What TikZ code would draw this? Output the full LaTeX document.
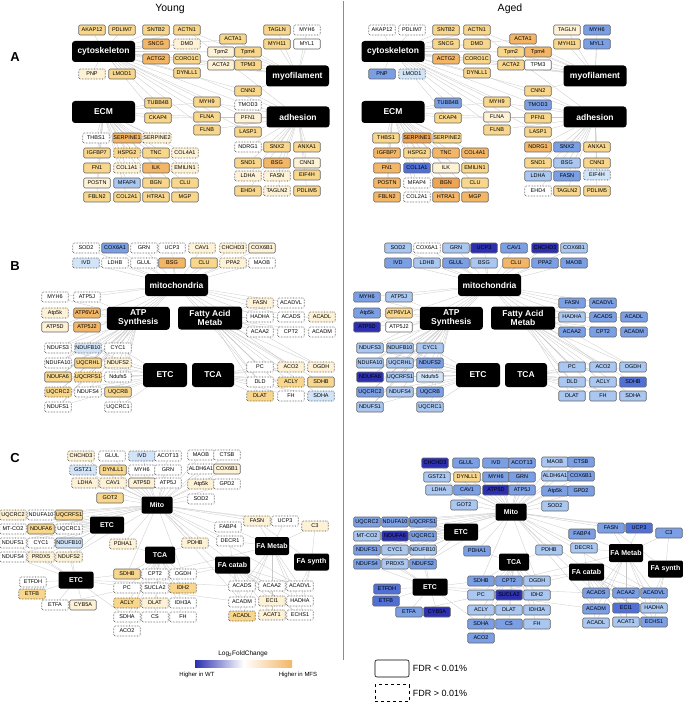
\documentclass[tikz,border=0pt]{standalone}
\usepackage{fontspec}
\setmainfont{Liberation Sans}
\usetikzlibrary{backgrounds}

\definecolor{cream}{HTML}{FDF1D6}
\definecolor{orA}{HTML}{F8D68C}
\definecolor{orB}{HTML}{F3B666}
\definecolor{orC}{HTML}{EEA455}
\definecolor{blA}{HTML}{D2E4F8}
\definecolor{blB}{HTML}{A9C7F1}
\definecolor{blC}{HTML}{7B9FE5}
\definecolor{blD}{HTML}{5070D6}
\definecolor{blE}{HTML}{2B2FB0}

\tikzset{
  gene/.style={draw=black!60, rounded corners=1.2pt, line width=0.55pt, minimum width=26.5pt, minimum height=10pt, inner sep=0.5pt, font=\fontsize{5.5}{5.5}\selectfont},
  gW/.style={gene, fill=white}, gWd/.style={gW, densely dotted, draw=black!80},
  gC/.style={gene, fill=cream}, gCd/.style={gC, densely dotted, draw=black!80},
  gO1/.style={gene, fill=orA}, gO1d/.style={gO1, densely dotted, draw=black!80},
  gO2/.style={gene, fill=orB}, gO3/.style={gene, fill=orC},
  gB1/.style={gene, fill=blA}, gB1d/.style={gB1, densely dotted, draw=black!80},
  gB2/.style={gene, fill=blB}, gB3/.style={gene, fill=blC},
  gB4/.style={gene, fill=blD}, gB5/.style={gene, fill=blE},
  hub/.style={fill=black, rounded corners=3pt, text=white, align=center, inner sep=1pt, font=\bfseries\fontsize{8.5}{9}\selectfont},
  hubs/.style={hub, rounded corners=2pt, font=\bfseries\fontsize{7}{7.5}\selectfont},
  edge/.style={draw=black!22, line width=0.3pt},
  plabel/.style={font=\bfseries\fontsize{13}{13}\selectfont},
}

\begin{document}
\begin{tikzpicture}[x=1pt, y=-1pt]
\useasboundingbox (0,0) rectangle (682,703);

\node (young) at (170,9) {\fontsize{10.5}{10.5}\selectfont Young};
\node (aged) at (510,9) {\fontsize{10.5}{10.5}\selectfont Aged};
\coordinate (divtop) at (343,1);
\coordinate (divbot) at (343,660);
\draw[black!45, line width=0.5pt] (divtop) -- (divbot);

\node[plabel] (labA) at (15,57) {A};
\node[plabel] (labB) at (15,266) {B};
\node[plabel] (labC) at (15,458) {C};

% panel A
\node[hub, minimum width=63pt, minimum height=21pt] (yA-cyto) at (103.5,51.5) {cytoskeleton};
\node[hub, minimum width=63pt, minimum height=22pt] (yA-ecm) at (103.5,112) {ECM};
\node[hub, minimum width=63pt, minimum height=21pt] (yA-myo) at (297.5,76) {myofilament};
\node[hub, minimum width=63pt, minimum height=21pt] (yA-adh) at (298,117) {adhesion};
\node[hub, minimum width=63pt, minimum height=21pt] (aA-cyto) at (393,51.5) {cytoskeleton};
\node[hub, minimum width=63pt, minimum height=22pt] (aA-ecm) at (393,112) {ECM};
\node[hub, minimum width=63pt, minimum height=21pt] (aA-myo) at (595,76) {myofilament};
\node[hub, minimum width=63pt, minimum height=21pt] (aA-adh) at (595,117) {adhesion};

\foreach \lab/\x/\y/\ys/\as in {
  AKAP12/92/30/gO1/gWd, PDLIM7/122/30/gO1/gWd, SNTB2/156/30/gO1/gO1, ACTN1/187/30/gO1/gO1,
  SNCG/156/44/gO2/gO1, DMD/187/44/gCd/gO1, ACTG2/156/59/gO2/gO2, CORO1C/187/59/gO1/gO1,
  PNP/92/74/gCd/gB3, LMOD1/122/74/gO1/gB1d, DYNLL1/187/73/gO1/gO1,
  TUBB4B/158/103/gO1/gB3, CKAP4/158/118/gO1/gO1,
  THBS1/96/138/gWd/gO1, SERPINE1/127/138/gO2/gO3, SERPINE2/157/138/gCd/gO1,
  IGFBP7/97/153/gO1/gO2, HSPG2/127/153/gO1d/gO1, TNC/156/153/gO1/gO2, COL4A1/185/153/gCd/gO2,
  FN1/97/168/gO1/gO2, COL1A1/127/168/gCd/gB4, ILK/156/168/gO2/gC, EMILIN1/185/168/gCd/gO1,
  POSTN/97/183/gC/gO2, MFAP4/127/183/gB2/gWd, BGN/156/183/gO1/gO3, CLU/185/183/gO1/gO1,
  FBLN2/97/197/gO1/gO2, COL2A1/127/197/gO1/gWd, HTRA1/156/197/gO1/gO2, MGP/185/197/gO1/gO2,
  ACTA1/233/39/gO1/gO2, Tpm2/221/52/gC/gO1, Tpm4/248/52/gO1/gO2, ACTA2/221/65/gC/gO1, TPM3/248/65/gO1/gW,
  TAGLN/277/30/gO1/gC, MYH6/307/30/gWd/gB3, MYH11/277/44/gO1/gO1, MYL1/307/44/gW/gB3,
  CNN2/248/91/gO1/gO1, MYH9/207/102/gO1/gO1, TMOD3/248/105/gWd/gB3, FLNA/207/117/gO1/gC,
  PFN1/248/118/gC/gO1, FLNB/207/130/gO1/gO1, LASP1/248/132/gO1/gO1,
  NDRG1/248/147/gWd/gO2, SNX2/277/147/gO1/gB3, ANXA1/307/147/gO1/gO1,
  SND1/248/163/gO1/gO1, BSG/277/163/gO2/gB2, CNN3/307/163/gC/gO1,
  LDHA/248/176/gCd/gB2, FASN/277/176/gCd/gB3, EIF4H/307/175/gO1/gB1d,
  EHD4/248/191/gO1/gWd, TAGLN2/277/191/gCd/gO1, PDLIM5/307/191/gO1/gO1} {
  \node[\ys] (yA-\lab) at (\x,\y) {\lab};
  \node[\as] (aA-\lab) at (\x+290,\y) {\lab};
}

% panel B
\foreach \p/\dx in {yB/0, aB/313} {
  \node[hub, minimum width=63pt, minimum height=22pt] (\p-mito) at (176.5+\dx,285) {mitochondria};
  \node[hub, minimum width=63pt, minimum height=23pt] (\p-atp) at (138.3+\dx,318.3) {ATP\\Synthesis};
  \node[hub, minimum width=64pt, minimum height=23pt] (\p-fam) at (210+\dx,318) {Fatty Acid\\Metab};
  \node[hub, minimum width=44pt, minimum height=24pt] (\p-etc) at (165+\dx,375) {ETC};
  \node[hub, minimum width=42pt, minimum height=24pt] (\p-tca) at (213+\dx,375) {TCA};
}

\foreach \lab/\x/\y/\ys/\as in {
  SOD2/86/248/gWd/gB2, COX6A1/115/248/gB3/gWd, GRN/144/248/gWd/gB2, UCP3/172/248/gWd/gB5,
  CAV1/202/248/gCd/gB3, CHCHD3/233/248/gCd/gB5, COX6B1/262/248/gC/gB2,
  IVD/86/263/gB1d/gB3, LDHB/115/263/gWd/gB2, GLUL/144/263/gWd/gB3, BSG/172/263/gO2/gB2,
  CLU/204/263/gO1/gO2, PPA2/233/263/gCd/gB3, MAOB/262/263/gWd/gB3,
  MYH6/55/297/gWd/gB3, ATP5J/87/297/gWd/gB2, Atp5k/55/313/gCd/gB3, ATP6V1A/87/313/gO2/gO1,
  ATP5D/55/327/gC/gB5, ATP5J2/87/327/gO2/gW,
  FASN/260/303/gCd/gB3, ACADVL/291/303/gWd/gB3, HADHA/260/317/gWd/gB2, ACADS/291/317/gWd/gB3,
  ACADL/322/317/gCd/gB3, ACAA2/260/332/gWd/gB3, CPT2/291/332/gWd/gB3, ACADM/322/332/gWd/gB3,
  NDUFS3/58/348/gWd/gB2, NDUFB10/88/348/gB1d/gB2, CYC1/118/348/gWd/gB2,
  NDUFA10/58/363/gWd/gB2, UQCRHL/88/363/gO1/gB2, NDUFS2/118/363/gCd/gB3,
  NDUFA6/58/377/gO1/gB5, UQCRFS1/88/377/gO1d/gB2, Ndufs5/118/377/gWd/gB1,
  UQCRC2/58/392/gO1d/gB3, NDUFS4/88/392/gWd/gB2, UQCRB/118/392/gO1/gB3,
  NDUFS1/58/407/gWd/gB2, UQCRC1/118/407/gWd/gB2,
  PC/260/367/gWd/gB2, ACO2/291/367/gCd/gB2, OGDH/321/367/gCd/gB2,
  DLD/260/382/gWd/gB2, ACLY/291/382/gO1d/gB2, SDHB/321/382/gO1/gB4,
  DLAT/260/396/gO1d/gB2, FH/291/396/gWd/gB2, SDHA/321/396/gB1d/gB2} {
  \node[\ys] (yB-\lab) at (\x,\y) {\lab};
  \node[\as] (aB-\lab) at (\x+312,\y) {\lab};
}

% panel C
\foreach \p/\dx/\dy in {yC/0/0, aC/354/7} {
  \node[hubs, minimum width=31pt, minimum height=17pt] (\p-mito) at (157+\dx,505+\dy) {Mito};
  \node[hubs, minimum width=34pt, minimum height=17pt] (\p-etcA) at (107+\dx,525+\dy) {ETC};
  \node[hubs, minimum width=30pt, minimum height=17pt] (\p-tca) at (160+\dx,555+\dy) {TCA};
  \node[hubs, minimum width=35pt, minimum height=17pt] (\p-etcB) at (76+\dx,580+\dy) {ETC};
  \node[hubs, minimum width=34pt, minimum height=18pt] (\p-fam) at (272+\dx,546+\dy) {FA Metab};
  \node[hubs, minimum width=35pt, minimum height=17pt] (\p-fac) at (232.5+\dx,565+\dy) {FA catab};
  \node[hubs, minimum width=35pt, minimum height=17pt] (\p-fas) at (311.5+\dx,562+\dy) {FA synth};
}

\foreach \lab/\x/\y/\ys/\as in {
  CHCHD3/81/456/gCd/gB5, GLUL/112/456/gWd/gB3, IVD/142/456/gB1d/gB3, ACOT13/168/456/gWd/gB3,
  MAOB/201/455/gWd/gB2, CTSB/227/455/gWd/gB3,
  GSTZ1/83/470/gB1d/gB2, DYNLL1/113/470/gO1/gO1, MYH6/142/470/gWd/gB3, GRN/168/470/gWd/gB3,
  ALDH6A1/201/469/gWd/gB2, COX6B1/227/469/gC/gB3,
  LDHA/85/483/gCd/gB2, CAV1/113/483/gCd/gB3, ATP5D/142/483/gC/gB5, ATP5J/168/483/gWd/gB3,
  Atp5k/201/484/gCd/gB3, GPD2/227/484/gWd/gB3, GOT2/110/498/gO1/gB2, SOD2/201/499/gWd/gB2,
  UQCRC2/13/515/gCd/gB3, NDUFA10/41/515/gWd/gB3, UQCRFS1/69/515/gO1/gB3,
  MT-CO2/13/529/gWd/gB2, NDUFA6/41/529/gO1/gB5, UQCRC1/69/529/gWd/gB3,
  NDUFS1/13/543/gWd/gB3, CYC1/41/543/gWd/gB2, NDUFB10/69/543/gB1/gB2,
  NDUFS4/13/557/gWd/gB3, PRDX5/41/557/gCd/gB2, NDUFS2/69/557/gCd/gB3,
  PDHA1/123/544/gCd/gB3, PDHB/195/543/gCd/gB2,
  FABP4/228/527/gWd/gB3, DECR1/230/541/gWd/gB2, FASN/257/521/gCd/gB3, UCP3/285/521/gWd/gB4, C3/315/526/gCd/gB3,
  ETFDH/33/582/gWd/gB4, ETFB/32/594/gO1d/gB4, ETFA/55/605/gWd/gB3, CYB5A/83/605/gC/gB5,
  SDHB/127/574/gO1/gB3, CPT2/155/574/gWd/gB3, OGDH/183/574/gWd/gB2,
  PC/127/588/gWd/gB2, SUCLA2/155/588/gWd/gB5, IDH2/183/588/gO1d/gB2,
  ACLY/127/603/gO1d/gB2, DLAT/155/603/gCd/gB2, IDH3A/183/603/gWd/gB2,
  SDHA/127/617/gWd/gB3, CS/155/617/gWd/gB3, FH/183/617/gWd/gB2, ACO2/127/631/gWd/gB3,
  ACADS/242/586/gWd/gB3, ACAA2/272/586/gWd/gB3, ACADVL/300/586/gWd/gB3,
  ACADM/242/602/gWd/gB3, ECI1/272/601/gCd/gB4, HADHA/300/601/gWd/gB2,
  ACADL/242/616/gO1d/gB2, ACAT1/272/615/gCd/gB2, ECHS1/300/615/gWd/gB3} {
  \node[\ys] (yC-\lab) at (\x,\y) {\lab};
  \node[\as] (aC-\lab) at (\x+354,\y+7) {\lab};
}

% connectors
\begin{scope}[on background layer]
\foreach \p in {yA,aA} {
  \foreach \g in {AKAP12,PDLIM7,SNTB2,ACTN1,SNCG,DMD,ACTG2,CORO1C,PNP,LMOD1,DYNLL1,TUBB4B,CKAP4,MYH9,FLNA,FLNB,ACTA1,Tpm2,Tpm4,ACTA2,TPM3,CNN2,TMOD3,PFN1,LASP1}
    \draw[edge] (\p-cyto) -- (\p-\g);
  \foreach \g in {TUBB4B,CKAP4,THBS1,SERPINE1,SERPINE2,IGFBP7,HSPG2,TNC,COL4A1,FN1,COL1A1,ILK,EMILIN1,POSTN,MFAP4,BGN,CLU,FBLN2,COL2A1,HTRA1,MGP,MYH9,FLNA}
    \draw[edge] (\p-ecm) -- (\p-\g);
  \foreach \g in {TAGLN,MYH6,MYH11,MYL1,ACTA1,Tpm2,Tpm4,ACTA2,TPM3,ACTN1,ACTG2,CORO1C,CNN2}
    \draw[edge] (\p-myo) -- (\p-\g);
  \foreach \g in {CNN2,TMOD3,PFN1,LASP1,MYH9,FLNA,FLNB,NDRG1,SNX2,ANXA1,SND1,BSG,CNN3,LDHA,FASN,EIF4H,EHD4,TAGLN2,PDLIM5,ACTN1,DYNLL1,CKAP4}
    \draw[edge] (\p-adh) -- (\p-\g);
}
\foreach \p in {yB,aB} {
  \foreach \g in {SOD2,COX6A1,GRN,UCP3,CAV1,CHCHD3,COX6B1,IVD,LDHB,GLUL,BSG,CLU,PPA2,MAOB,MYH6,ATP5J,ATP5D,NDUFS3,NDUFA10,NDUFA6,UQCRC2,NDUFS1,FASN,ACADVL,HADHA,ACADS,PC,ACO2,OGDH,DLD}
    \draw[edge] (\p-mito) -- (\p-\g);
  \foreach \g in {MYH6,ATP5J,Atp5k,ATP6V1A,ATP5D,ATP5J2,NDUFS3,NDUFB10,CYC1,NDUFA10,UQCRHL,NDUFS2,NDUFA6,UQCRFS1,Ndufs5,UQCRC2,NDUFS4,UQCRB,NDUFS1,UQCRC1}
    \draw[edge] (\p-atp) -- (\p-\g);
  \foreach \g in {FASN,ACADVL,HADHA,ACADS,ACADL,ACAA2,CPT2,ACADM,PC,ACO2,OGDH,DLD,ACLY,SDHB,DLAT,FH,SDHA}
    \draw[edge] (\p-fam) -- (\p-\g);
  \foreach \g in {NDUFS3,NDUFB10,CYC1,NDUFA10,UQCRHL,NDUFS2,NDUFA6,UQCRFS1,Ndufs5,UQCRC2,NDUFS4,UQCRB,NDUFS1,UQCRC1}
    \draw[edge] (\p-etc) -- (\p-\g);
  \foreach \g in {PC,ACO2,OGDH,DLD,ACLY,SDHB,DLAT,FH,SDHA}
    \draw[edge] (\p-tca) -- (\p-\g);
}
\foreach \p in {yC,aC} {
  \foreach \g in {CHCHD3,GLUL,IVD,ACOT13,MAOB,CTSB,GSTZ1,DYNLL1,MYH6,GRN,ALDH6A1,COX6B1,LDHA,CAV1,ATP5D,ATP5J,Atp5k,GPD2,GOT2,SOD2,UQCRC2,NDUFA10,UQCRFS1,MT-CO2,NDUFA6,UQCRC1,NDUFS1,NDUFS2,PDHA1,PDHB,FABP4,DECR1,FASN,UCP3,C3,SDHB,OGDH,ACADS,ACADM,ACADVL,ECHS1}
    \draw[edge] (\p-mito) -- (\p-\g);
  \foreach \g in {UQCRC2,NDUFA10,UQCRFS1,MT-CO2,NDUFA6,UQCRC1,NDUFS1,CYC1,NDUFB10,NDUFS4,PRDX5,NDUFS2}
    \draw[edge] (\p-etcA) -- (\p-\g);
  \foreach \g in {ETFDH,ETFB,ETFA,CYB5A,NDUFS1,NDUFS4,PRDX5,NDUFS2,NDUFB10,SDHB,SDHA,ACADS,ACADM}
    \draw[edge] (\p-etcB) -- (\p-\g);
  \foreach \g in {PDHA1,PDHB,SDHB,CPT2,OGDH,PC,SUCLA2,IDH2,ACLY,DLAT,IDH3A,SDHA,CS,FH,ACO2}
    \draw[edge] (\p-tca) -- (\p-\g);
  \foreach \g in {FABP4,DECR1,FASN,UCP3,C3,ACADS,ACAA2,ACADVL,ACADM,ECI1,HADHA,ACADL,ACAT1,ECHS1,CPT2}
    \draw[edge] (\p-fam) -- (\p-\g);
  \foreach \g in {DECR1,ACADS,ACAA2,ACADVL,ACADM,ECI1,HADHA,ACADL,ACAT1,ECHS1,CPT2,ETFA}
    \draw[edge] (\p-fac) -- (\p-\g);
  \foreach \g in {FASN,C3,ACADVL,HADHA,ECHS1}
    \draw[edge] (\p-fas) -- (\p-\g);
}
\end{scope}

% legend
\node[font=\fontsize{6.5}{6.5}\selectfont] (lfc) at (243,654) {Log\textsubscript{2}FoldChange};
\shade[left color=blE, right color=orB, middle color=white] (195,660.5) rectangle (292,667.5);
\node[font=\fontsize{6}{6}\selectfont] (hwt) at (197,675) {Higher in WT};
\node[font=\fontsize{6}{6}\selectfont] (hmfs) at (298,675) {Higher in MFS};
\node[draw, rounded corners=2pt, line width=0.6pt, minimum width=34pt, minimum height=17pt] (fdrlo) at (392,668.5) {};
\node[anchor=west, font=\fontsize{9}{9}\selectfont] (fdrlotxt) at (fdrlo.east) {FDR < 0.01\%};
\node[draw, dashed, line width=0.6pt, minimum width=34pt, minimum height=17pt] (fdrhi) at (392,693) {};
\node[anchor=west, font=\fontsize{9}{9}\selectfont] (fdrhitxt) at (fdrhi.east) {FDR > 0.01\%};
\end{tikzpicture}
\end{document}
